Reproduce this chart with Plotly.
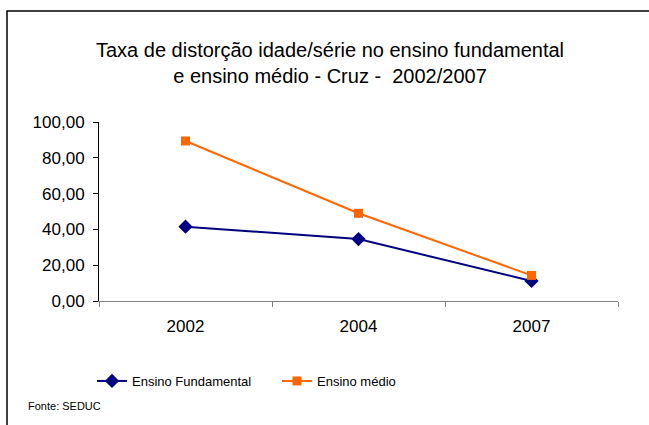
import plotly.graph_objects as go

years = ["2002", "2004", "2007"]
fundamental = [41.5, 34.6, 11.2]
medio = [89.4, 49.0, 14.3]
series_names = ["Ensino Fundamental", "Ensino médio"]
y_ticks = [0, 20, 40, 60, 80, 100]

W, H = 649, 425
L, R, T, B = 99, 31, 122, 124
pw, ph = W - L - R, H - T - B

def px_x(p):
    return (p - L) / pw

def px_y(p):
    return (H - B - p) / ph

FONT = "Liberation Sans, Arial, sans-serif"

fig = go.Figure()
fig.add_trace(go.Scatter(
    x=years, y=fundamental, name=series_names[0], mode="lines+markers",
    line=dict(color="#000080", width=2),
    marker=dict(symbol="diamond", size=11, color="#000080"),
))
fig.add_trace(go.Scatter(
    x=years, y=medio, name=series_names[1], mode="lines+markers",
    line=dict(color="#FF6600", width=2),
    marker=dict(symbol="square", size=9, color="#FF6600"),
))

fig.update_layout(
    width=W, height=H,
    margin=dict(l=L, r=R, t=T, b=B),
    paper_bgcolor="white", plot_bgcolor="white",
    separators=",.",
    font=dict(family=FONT, color="black", size=17),
    title=dict(
        text="Taxa de distorção idade/série no ensino fundamental<br>e ensino médio - Cruz -  2002/2007",
        x=330 / W, xanchor="center", y=1 - 56.5 / H, yanchor="middle",
        font=dict(size=20, family=FONT, color="black"),
    ),
    showlegend=True,
    legend=dict(
        orientation="h", x=px_x(92), y=px_y(381), xanchor="left", yanchor="middle",
        font=dict(size=13, family=FONT), bgcolor="rgba(0,0,0,0)",
        itemwidth=30, entrywidth=140, entrywidthmode="pixels",
    ),
    xaxis=dict(
        type="category", range=[-0.5, 2.5], showgrid=False, zeroline=False,
        showline=True, linecolor="#808080", linewidth=1,
        ticks="outside", tickson="boundaries", ticklen=5, tickcolor="#808080",
        tickfont=dict(size=17, family=FONT), ticklabelstandoff=10, fixedrange=True,
    ),
    yaxis=dict(
        range=[0, 100], tickvals=y_ticks, tickformat=".2f", showgrid=False,
        zeroline=False, showline=True, linecolor="black", linewidth=1,
        ticks="outside", ticklen=5, tickcolor="black",
        tickfont=dict(size=17, family=FONT), ticklabelstandoff=5, fixedrange=True,
    ),
    shapes=[dict(
        type="rect", xref="paper", yref="paper",
        x0=px_x(7), y0=px_y(440), x1=px_x(670), y1=px_y(11),
        line=dict(color="black", width=1.5), fillcolor="rgba(0,0,0,0)", layer="below",
    )],
    annotations=[dict(
        text="Fonte: SEDUC", xref="paper", yref="paper",
        x=px_x(26), y=px_y(406), xanchor="left", yanchor="middle",
        showarrow=False, font=dict(size=11, family=FONT, color="black"),
    )],
)

fig.write_html("out.html", config={"displayModeBar": False},
               post_script="document.body.style.margin='0';")
